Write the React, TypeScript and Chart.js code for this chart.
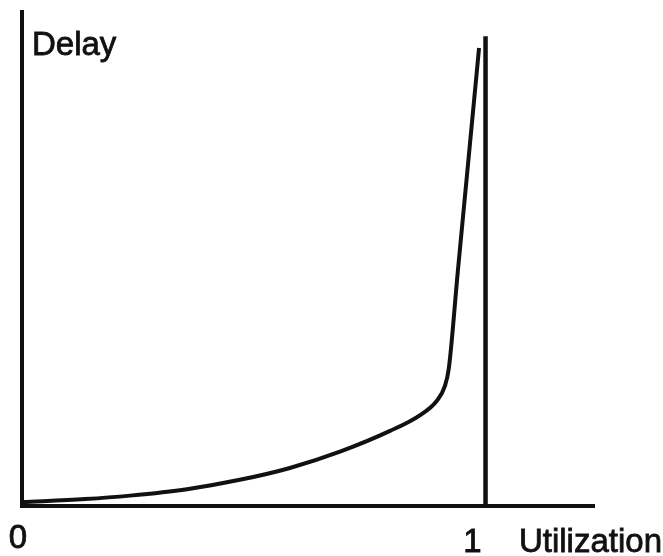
import React, { useEffect, useRef } from "react";
import { Chart, registerables } from "chart.js";

Chart.register(...registerables);

// Curve: delay as a function of utilization
const utilization = [0, 0.136, 0.233, 0.356, 0.47, 0.578, 0.686, 0.794, 0.859, 0.895, 0.912, 0.921, 0.94, 0.96, 0.986];
const delay = [0.8, 1.4, 2.1, 3.4, 5.3, 7.7, 11.0, 15.2, 18.4, 21.3, 24.2, 28.0, 47.3, 67.0, 92.7];

// Vertical asymptote at utilization = 1
const limitX = [1, 1];
const limitY = [0, 95.1];

// Axis range
const xMin = 0;
const xMax = 1.234;
const yMin = 0;
const yMax = 100;

// Text
const xTickValues = [0, 1];
const xTickLabels = ["0", "1"];
const xTitle = "Utilization";
const yTitle = "Delay";

const FONT = '33px "Liberation Sans", Arial, Helvetica, sans-serif';

const labelPlugin = {
  id: "labels",
  afterDraw(chart: any) {
    const { ctx, scales, chartArea } = chart;
    const xs = scales.x;
    ctx.save();
    ctx.fillStyle = "#111";
    ctx.strokeStyle = "#111";
    ctx.lineWidth = 0.8;
    ctx.font = FONT;
    ctx.textBaseline = "alphabetic";
    const put = (t: string, x: number, y: number) => {
      ctx.fillText(t, x, y);
      ctx.strokeText(t, x, y);
    };
    // y title
    ctx.textAlign = "left";
    put(yTitle, chartArea.left + 10, chartArea.top + 43);
    // x tick labels
    ctx.textAlign = "center";
    const offsets = [-4, -13];
    const drops = [42, 46];
    xTickValues.forEach((v, i) => {
      put(xTickLabels[i], xs.getPixelForValue(v) + offsets[i], chartArea.bottom + drops[i]);
    });
    // x title
    ctx.textAlign = "right";
    put(xTitle, chart.width - 1, chartArea.bottom + 46);
    ctx.restore();
  },
};

export default function App() {
  const ref = useRef<HTMLCanvasElement | null>(null);
  useEffect(() => {
    if (!ref.current) return;
    const chart = new Chart(ref.current, {
      type: "line",
      data: {
        datasets: [
          {
            data: utilization.map((x, i) => ({ x, y: delay[i] })),
            borderColor: "#111",
            borderWidth: 4,
            pointRadius: 0,
            cubicInterpolationMode: "monotone",
            fill: false,
          },
          {
            data: limitX.map((x, i) => ({ x, y: limitY[i] })),
            borderColor: "#111",
            borderWidth: 4.5,
            pointRadius: 0,
            fill: false,
          },
        ],
      },
      options: {
        animation: false,
        responsive: true,
        maintainAspectRatio: false,
        layout: { padding: { left: 22, right: 69, top: 12, bottom: 50 } },
        plugins: {
          legend: { display: false },
          tooltip: { enabled: false },
          title: { display: false },
        },
        scales: {
          x: {
            type: "linear",
            min: xMin,
            max: xMax,
            grid: { display: false, drawTicks: false },
            ticks: { display: false },
            border: { display: true, color: "#111", width: 4 },
            afterFit: (s: any) => { s.height = 0; },
          },
          y: {
            type: "linear",
            min: yMin,
            max: yMax,
            grid: { display: false, drawTicks: false },
            ticks: { display: false },
            border: { display: true, color: "#111", width: 4 },
            afterFit: (s: any) => { s.width = 0; },
          },
        },
      },
      plugins: [labelPlugin],
    });
    return () => chart.destroy();
  }, []);
  return (
    <div style={{ position: "fixed", left: 0, top: 0, width: 663, height: 556, background: "#fff" }}>
      <canvas ref={ref} />
    </div>
  );
}
